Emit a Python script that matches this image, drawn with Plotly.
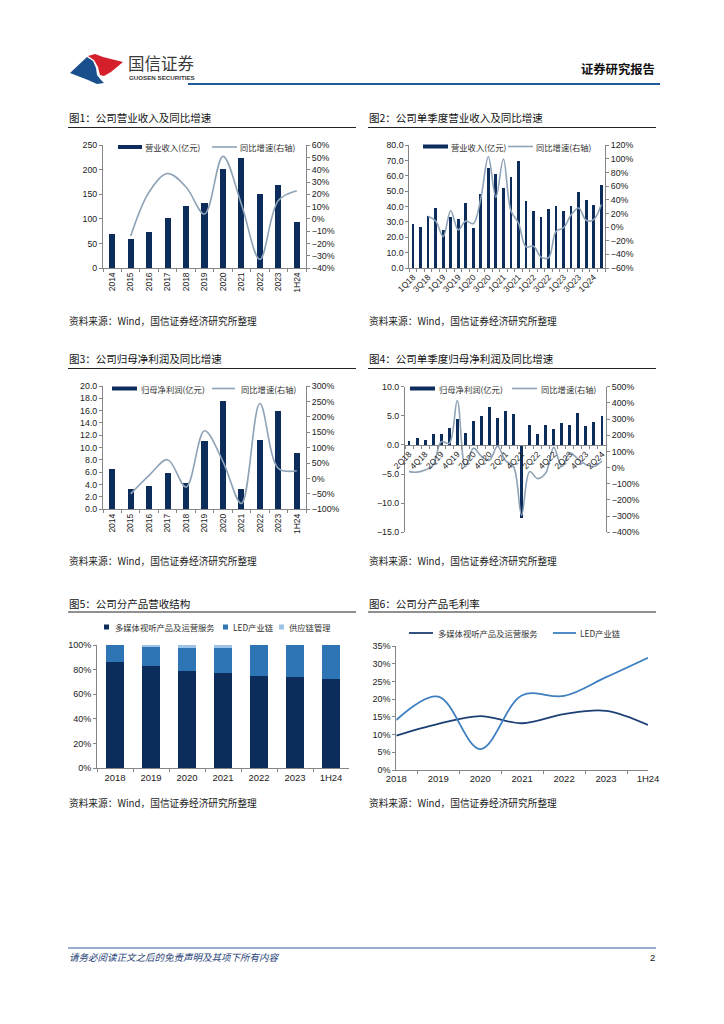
import plotly.graph_objects as go

# ---------------- data ----------------
years = ["2014", "2015", "2016", "2017", "2018", "2019", "2020", "2021", "2022", "2023", "1H24"]
revenue = [70, 60, 74, 101, 127, 133, 201, 225, 150, 170, 94]
revenue_yoy = [None, -14, 22, 37, 26, 4, 51, 12, -33, 15, 23]

quarters_rev = ["1Q18", "2Q18", "3Q18", "4Q18", "1Q19", "2Q19", "3Q19", "4Q19",
                "1Q20", "2Q20", "3Q20", "4Q20", "1Q21", "2Q21", "3Q21", "4Q21",
                "1Q22", "2Q22", "3Q22", "4Q22", "1Q23", "2Q23", "3Q23", "4Q23",
                "1Q24", "2Q24"]
q_revenue = [28.8, 27.0, 33.9, 39.1, 24.8, 33.5, 32.2, 42.6, 26.1, 48.3, 65.4, 61.5,
             52.2, 59.6, 69.6, 43.5, 37.4, 33.5, 38.3, 40.4, 37.4, 40.4, 49.6, 44.3,
             41.3, 54.1]
q_revenue_yoy = [None, None, 16, 9, -14, 24, -4, 9, 5, 42, 103, 44, 100, 24, 6, -29,
                 -28, -44, -45, -6, -1, 18, 28, 10, 11, 33]

net_profit = [6.6, 3.35, 3.7, 5.95, 4.3, 11.1, 17.6, 3.3, 11.3, 15.9, 9.1]
net_profit_yoy = [None, -50, 10, 61, -28, 155, 55, -81, 243, 33, 25]

quarters_np = ["2Q18", "3Q18", "4Q18", "1Q19", "2Q19", "3Q19", "4Q19", "1Q20",
               "2Q20", "3Q20", "4Q20", "1Q21", "2Q21", "3Q21", "4Q21", "1Q22",
               "2Q22", "3Q22", "4Q22", "1Q23", "2Q23", "3Q23", "4Q23", "1Q24", "2Q24"]
q_net_profit = [0.63, 1.15, 0.8, 1.95, 1.9, 2.9, 4.5, 2.0, 4.1, 4.95, 6.5, 4.65, 5.85,
                5.3, -12.5, 3.5, 1.85, 3.5, 2.7, 3.75, 3.5, 5.4, 3.2, 4.0, 4.95]
q_net_profit_yoy = [-25, -28, -15, 15, 160, 150, 415, 5, 120, 70, 45, 132, 43, 7, -295,
                    -25, -68, -34, 125, 7, 89, 54, 19, 7, 41]

seg_years = ["2018", "2019", "2020", "2021", "2022", "2023", "1H24"]
share_media = [86.2, 82.7, 78.9, 77.6, 74.9, 73.8, 72.7]
share_led = [13.8, 15.9, 18.4, 20.0, 25.1, 26.2, 27.3]
share_supply = [0, 1.4, 2.7, 2.4, 0, 0, 0]

margin_media = [9.7, 13.0, 15.2, 13.2, 15.8, 16.7, 12.7]
margin_led = [14.1, 20.7, 5.9, 21.1, 20.9, 26.2, 31.7]

# ---------------- style ----------------
# the page body has an 8px margin, so the figure is drawn 8px smaller on each side
OFF = 8
W, H = 724 - 2 * OFF, 1024 - 2 * OFF
CJK = "Noto Sans CJK SC"
NUM = "Liberation Sans, Arial, sans-serif"
NAVY = "#0c2c5c"
GREYBLUE = "#8fa3b7"
LEDBLUE = "#2e75b6"
LIGHT = "#9dc3e6"
AXIS = "#868686"
TXT = "#222222"


def X(px):
    return (px - OFF) / W


def Y(py):
    return 1 - (py - OFF) / H


annotations = []
shapes = []


def text(x, y, s, size, color=TXT, family=CJK, xanchor="left", **kw):
    annotations.append(dict(x=X(x), y=Y(y), xref="paper", yref="paper", text=s,
                            showarrow=False, xanchor=xanchor, yanchor="middle",
                            borderpad=0, font=dict(family=family, size=size, color=color, **kw)))


def hline(x0, x1, y, color, width):
    shapes.append(dict(type="line", xref="paper", yref="paper", x0=X(x0), x1=X(x1),
                       y0=Y(y), y1=Y(y), line=dict(color=color, width=width)))


def rect(x0, x1, y0, y1, color):
    shapes.append(dict(type="rect", xref="paper", yref="paper", x0=X(x0), x1=X(x1),
                       y0=Y(y1), y1=Y(y0), fillcolor=color, line=dict(width=0)))


def path(pts, color):
    d = "M " + " L ".join(f"{X(a):.5f},{Y(b):.5f}" for a, b in pts) + " Z"
    shapes.append(dict(type="path", xref="paper", yref="paper", path=d,
                       fillcolor=color, line=dict(width=0)))


fig = go.Figure()

# chart 1
fig.add_trace(go.Bar(x=years, y=revenue, marker_color=NAVY, width=0.33,
                     xaxis="x", yaxis="y"))
fig.add_trace(go.Scatter(x=years, y=revenue_yoy, mode="lines", xaxis="x", yaxis="y2",
                         line=dict(color=GREYBLUE, width=1.6, shape="spline", smoothing=1.0)))
# chart 2
fig.add_trace(go.Bar(x=quarters_rev, y=q_revenue, marker_color=NAVY, width=0.36,
                     xaxis="x2", yaxis="y3"))
fig.add_trace(go.Scatter(x=quarters_rev, y=q_revenue_yoy, mode="lines", xaxis="x2", yaxis="y4",
                         line=dict(color=GREYBLUE, width=1.6, shape="spline", smoothing=1.0)))
# chart 3
fig.add_trace(go.Bar(x=years, y=net_profit, marker_color=NAVY, width=0.33,
                     xaxis="x3", yaxis="y5"))
fig.add_trace(go.Scatter(x=years, y=net_profit_yoy, mode="lines", xaxis="x3", yaxis="y6",
                         line=dict(color=GREYBLUE, width=1.6, shape="spline", smoothing=1.0)))
# chart 4
fig.add_trace(go.Bar(x=quarters_np, y=q_net_profit, marker_color=NAVY, width=0.36,
                     xaxis="x4", yaxis="y7"))
fig.add_trace(go.Scatter(x=quarters_np, y=q_net_profit_yoy, mode="lines", xaxis="x4", yaxis="y8",
                         line=dict(color=GREYBLUE, width=1.6, shape="spline", smoothing=1.0)))
# chart 5
for vals, col in [(share_media, NAVY), (share_led, LEDBLUE), (share_supply, LIGHT)]:
    fig.add_trace(go.Bar(x=seg_years, y=vals, marker_color=col, width=0.49,
                         marker_line_width=0, xaxis="x5", yaxis="y9"))
# chart 6
fig.add_trace(go.Scatter(x=seg_years, y=margin_media, mode="lines", xaxis="x6", yaxis="y10",
                         line=dict(color="#1c3f74", width=1.8, shape="spline", smoothing=1.0)))
fig.add_trace(go.Scatter(x=seg_years, y=margin_led, mode="lines", xaxis="x6", yaxis="y10",
                         line=dict(color="#3d7fc1", width=1.8, shape="spline", smoothing=1.0)))


def xax(d0, d1, anchor, angle=0, ticktext=None, cats=None, size=8.5, **kw):
    ax = dict(domain=[X(d0), X(d1)], anchor=anchor, type="category", showline=True,
              linecolor=AXIS, linewidth=1, ticks="outside", ticklen=3, tickcolor=AXIS,
              tickson="boundaries", showgrid=False, zeroline=False, tickangle=angle,
              automargin=False,
              tickfont=dict(family=NUM, size=size, color=TXT), fixedrange=True)
    if ticktext is not None:
        ax.update(tickmode="array", tickvals=cats, ticktext=ticktext)
    ax.update(kw)
    return ax


def yax(top, bottom, rng, dtick, anchor, side="left", overlaying=None, fmt=None, suffix="",
        size=8.8):
    ax = dict(domain=[Y(bottom), Y(top)], range=rng, dtick=dtick, tick0=0, anchor=anchor,
              side=side, showline=True, linecolor=AXIS, linewidth=1, ticks="outside",
              ticklen=3, tickcolor=AXIS, showgrid=False, zeroline=False, automargin=False,
              tickfont=dict(family=NUM, size=size, color=TXT), ticksuffix=suffix,
              fixedrange=True)
    if overlaying:
        ax["overlaying"] = overlaying
    if fmt:
        ax["tickformat"] = fmt
    return ax


qrev_ticks = [q if i % 2 == 0 else "" for i, q in enumerate(quarters_rev)]
qnp_ticks = [q if i % 2 == 0 else "" for i, q in enumerate(quarters_np)]

layout = dict(
    template="none",
    width=W, height=H, autosize=False, margin=dict(l=0, r=0, t=0, b=0, pad=0, autoexpand=False),
    paper_bgcolor="white", plot_bgcolor="rgba(0,0,0,0)", showlegend=False,
    barmode="stack", hovermode=False,
    # chart 1
    xaxis=xax(103, 306, "y", angle=-90),
    yaxis=yax(145.3, 268, [0, 250], 50, "x"),
    yaxis2=yax(145.3, 268, [-40, 60], 10, "x", side="right", overlaying="y", suffix="%"),
    # chart 2
    xaxis2=xax(409.3, 605, "y3", angle=-45, ticktext=qrev_ticks, cats=quarters_rev),
    yaxis3=yax(145.3, 268, [0, 80], 10, "x2", fmt=".1f"),
    yaxis4=yax(145.3, 268, [-60, 120], 20, "x2", side="right", overlaying="y3", suffix="%"),
    # chart 3
    xaxis3=xax(103, 306, "y5", angle=-90),
    yaxis5=yax(386, 509.3, [0, 20], 2, "x3", fmt=".1f"),
    yaxis6=yax(386, 509.3, [-100, 300], 50, "x3", side="right", overlaying="y5", suffix="%"),
    # chart 4
    xaxis4=xax(405, 606, "free", angle=-45, ticktext=qnp_ticks, cats=quarters_np,
               position=Y(445.0)),
    yaxis7=yax(386.7, 532.3, [-15, 10], 5, "x4", fmt=".1f"),
    yaxis8=yax(386.7, 532.3, [-400, 500], 100, "x4", side="right", overlaying="y7", suffix="%"),
    # chart 5
    xaxis5=xax(97, 349, "y9", size=9.5),
    yaxis9=yax(645, 768.3, [0, 100], 20, "x5", suffix="%", size=9),
    # chart 6
    xaxis6=xax(396.3, 648, "y10", size=9.5),
    yaxis10=yax(646, 770, [0, 35], 5, "x6", suffix="%", size=9),
)

# ---------------- page header ----------------
path([(70, 73), (87, 57), (93, 61), (96, 68), (97, 75), (101, 80), (104, 83), (97, 84), (88, 80)], "#1a4f8e")
path([(88, 56), (95, 54), (103, 57), (123, 62), (111, 72), (104, 76), (100, 75), (98, 67), (94, 60)], "#d51f2b")
text(127, 63, "国信证券", 16.5, color="#3a3a3a")
text(128, 77.5, "<b>GUOSEN SECURITIES</b>", 6.2, color="#3a3a3a", family=NUM)
text(656, 69, "<b>证券研究报告</b>", 12.3, color="#111111", xanchor="right")
hline(188, 660, 84, "#1f5c99", 2.2)

# ---------------- titles / sources ----------------
titles = [(68, 117, "图1：公司营业收入及同比增速"), (368, 117, "图2：公司单季度营业收入及同比增速"),
          (68, 358, "图3：公司归母净利润及同比增速"), (368, 358, "图4：公司单季度归母净利润及同比增速"),
          (68, 603, "图5：公司分产品营收结构"), (368, 603, "图6：公司分产品毛利率")]
for x, y, s in titles:
    text(x, y, s, 10.5, color="#111111")
for x0, y in [(68, 127.5), (368, 127.5), (68, 368.5), (368, 368.5), (68, 612), (368, 612)]:
    hline(x0, x0 + 288, y, "#222222", 1)
for x, y in [(68, 321), (368, 321), (68, 561), (368, 561), (68, 803), (368, 803)]:
    text(x, y, "资料来源：Wind，国信证券经济研究所整理", 9.7, color="#222222")

# ---------------- in-chart legends ----------------
LG = 8.3
LC = "#333333"
# chart 1
rect(118, 142, 145, 149, NAVY); text(144, 147, "营业收入(亿元)", LG, LC)
hline(212, 237, 147, GREYBLUE, 1.6); text(239, 147, "同比增速(右轴)", LG, LC)
# chart 2
rect(423, 448, 144.5, 148.5, NAVY); text(450, 146.5, "营业收入(亿元)", LG, LC)
hline(508, 533, 146.5, GREYBLUE, 1.6); text(535, 146.5, "同比增速(右轴)", LG, LC)
# chart 3
rect(112, 137, 386.5, 390.5, NAVY); text(140, 388.5, "归母净利润(亿元)", LG, LC)
hline(212, 235, 388.5, GREYBLUE, 1.6); text(240, 388.5, "同比增速(右轴)", LG, LC)
# chart 4
rect(410, 435, 386.5, 390.5, NAVY); text(438, 388.5, "归母净利润(亿元)", LG, LC)
hline(512, 537, 388.5, GREYBLUE, 1.6); text(540, 388.5, "同比增速(右轴)", LG, LC)
# chart 5
rect(104, 109, 624.5, 629.5, NAVY); text(114, 627, "多媒体视听产品及运营服务", LG, LC)
rect(223, 228, 624.5, 629.5, LEDBLUE); text(232, 627, "LED产业链", LG, LC)
rect(279, 284, 624.5, 629.5, LIGHT); text(288, 627, "供应链管理", LG, LC)
# chart 6
hline(409, 433, 633, "#1c3f74", 1.8); text(437, 633, "多媒体视听产品及运营服务", LG, LC)
hline(553, 576, 633, "#3d7fc1", 1.8); text(579, 633, "LED产业链", LG, LC)

# ---------------- footer ----------------
hline(68, 656, 948, "#2a5d9a", 1)
text(68, 957, "<i>请务必阅读正文之后的免责声明及其项下所有内容</i>", 9.5, color="#1f3f77")
text(656, 957, "2", 9.5, color="#111111", family=NUM, xanchor="right")

layout["annotations"] = annotations
layout["shapes"] = shapes
fig.update_layout(**layout)

fig.write_html("out.html", config={"displayModeBar": False, "staticPlot": True})
